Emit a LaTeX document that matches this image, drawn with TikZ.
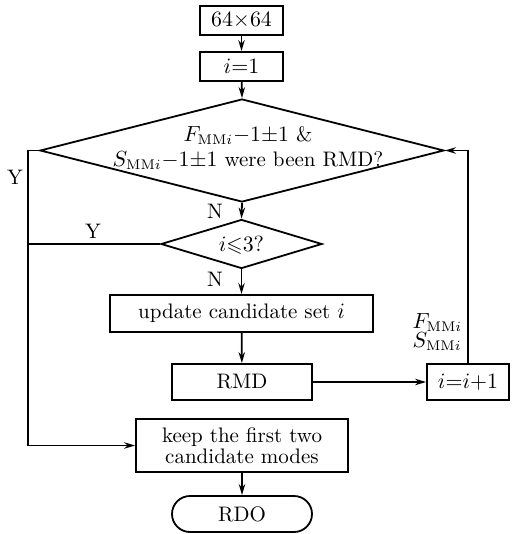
\documentclass[tikz,border=0pt]{standalone}
\usepackage{amssymb}
\usetikzlibrary{shapes.geometric,shapes.misc,arrows.meta}
\begin{document}
\begin{tikzpicture}[x=0.5pt,y=-0.5pt,
  line width=0.9pt,
  font=\fontsize{10.5}{12.5}\selectfont,
  >={Stealth[length=5.5pt,width=3.2pt]},
  procbox/.style={draw,rectangle,inner sep=0pt,align=center},
  decide/.style={draw,diamond,inner sep=0pt},
  endbox/.style={draw,rounded rectangle,inner sep=0pt},
  tag/.style={inner sep=0pt}]
\useasboundingbox (0,0) rectangle (519,534);
% main column
\node[procbox,minimum width=41.5pt,minimum height=14.5pt] (start) at (241.5,20.5) {$64{\times}64$};
\node[procbox,minimum width=41.5pt,minimum height=14.5pt] (init) at (241.5,66.5) {$i{=}1$};
\node[decide,minimum width=202pt,minimum height=51.5pt] (test) at (242,150.5) {};
\node[tag,align=center] (testtext) at (248,148) {$F_{\mathrm{MM}i}{-}1{\pm}1$ \&\\$S_{\mathrm{MM}i}{-}1{\pm}1$ were been RMD?};
\node[decide,minimum width=80.5pt,minimum height=24.5pt] (count) at (241.5,244) {};
\node[tag] (counttext) at (241.5,245) {$i{\leqslant}3?$};
\node[procbox,minimum width=131.5pt,minimum height=18.5pt] (update) at (241.5,313.5) {update candidate set $i$};
\node[procbox,minimum width=70pt,minimum height=18pt] (rmd) at (242,382) {RMD};
\node[procbox,minimum width=41pt,minimum height=18pt] (inc) at (468,382) {$i{=}i{+}1$};
\node[procbox,minimum width=106pt,minimum height=26.5pt] (keep) at (242,445.5) {keep the first two\\[-2pt]candidate modes};
\node[endbox,minimum width=70pt,minimum height=18pt] (rdo) at (242,514) {RDO};
% corner points of the side loops
\coordinate (lefttop) at (28,150.5);
\coordinate (leftbot) at (28,445.5);
\coordinate (rightup) at (468,150.5);
% connectors
\draw[->] (start) -- (init);
\draw[->] (init) -- (test.north);
\draw[->] (test.south) -- (count.north);
\draw[->] (count.south) -- (update.north);
\draw[->] (update) -- (rmd);
\draw[->] (rmd) -- (inc);
\draw[->] (inc.north) -- (rightup) -- (test.east);
\draw (test.west) -- (lefttop) -- (leftbot);
\draw (count.west) -- (28,244);
\draw[->] (leftbot) -- (keep.west);
\draw[->] (keep) -- (rdo);
% branch labels
\node[tag] (y1) at (15,177) {Y};
\node[tag] (y2) at (93,231) {Y};
\node[tag] (n1) at (215,211) {N};
\node[tag] (n2) at (215,279) {N};
\node[tag,anchor=east,align=left] (fs) at (463,332) {$F_{\mathrm{MM}i}$\\[-3pt]$S_{\mathrm{MM}i}$};
\end{tikzpicture}
\end{document}
